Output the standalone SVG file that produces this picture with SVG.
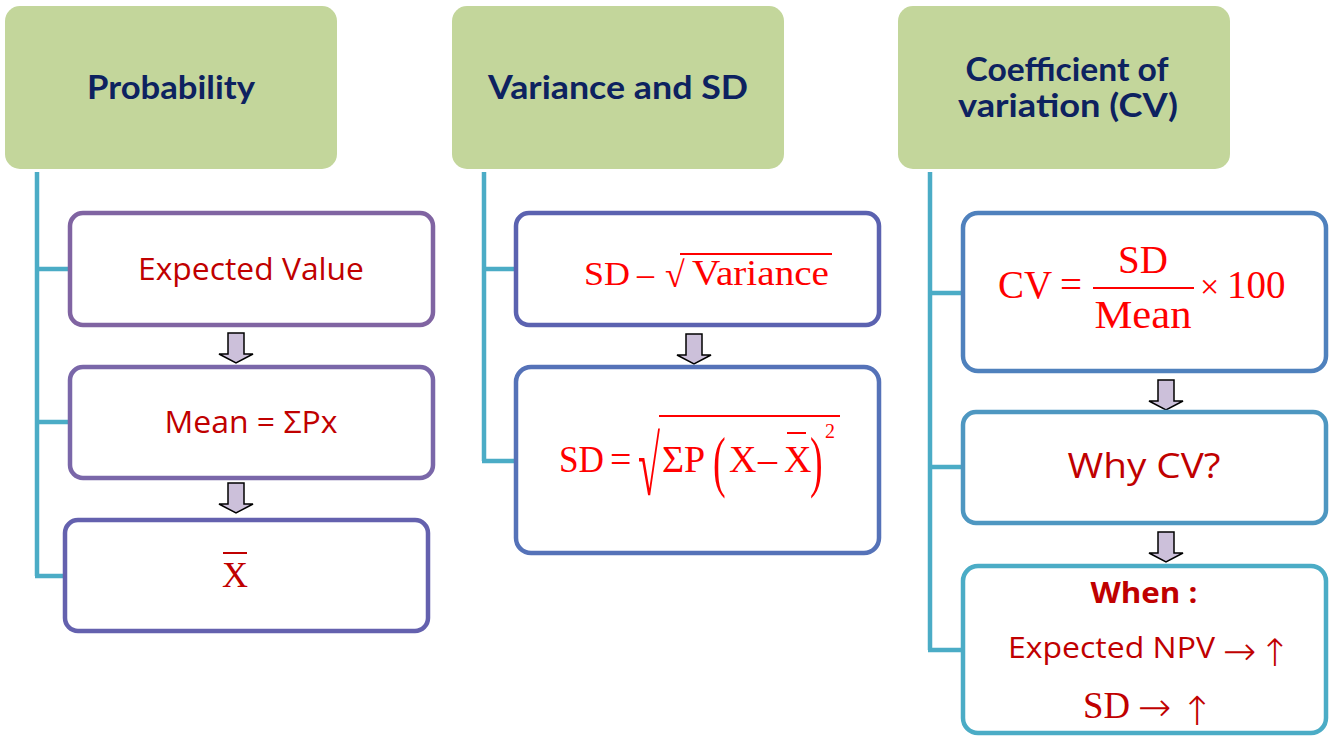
<svg xmlns="http://www.w3.org/2000/svg" width="1330" height="736" viewBox="0 0 1330 736">
<style>
.hdr{fill:#c3d69b;}
.ht{font-family:Lato,"Liberation Sans",sans-serif;font-weight:700;font-size:33px;fill:#0d2260;text-anchor:middle;}
.box{fill:#fff;stroke-width:4.5;}
.conn{fill:none;stroke:#4bacc6;stroke-width:4.5;}
.ct{font-family:"Open Sans","Liberation Sans",sans-serif;fill:#c00000;}
.m{font-family:"Liberation Serif","DejaVu Serif",serif;fill:#ff0000;}
.md{font-family:"Liberation Serif","DejaVu Serif",serif;fill:#c00000;}
.aw{font-family:"DejaVu Sans",sans-serif;fill:#c00000;font-weight:200;}
.ar{fill:#ccc0da;stroke:#000;stroke-width:1.5;}
</style>
<defs>
<path id="dn" d="M-8,0 H8 V21 H17 L0,30 L-17,21 H-8 Z"/>
</defs>
<g id="connectors">
<path class="conn" d="M37,172 V576 M35,269 H70 M35,422 H70 M35,576 H65"/>
<path class="conn" d="M484,172 V461 M482,269 H516 M482,461 H516"/>
<path class="conn" d="M930,172 V650 M928,293 H963 M928,467 H963 M928,650 H963"/>
<use href="#dn" class="ar" x="236" y="333"/>
<use href="#dn" class="ar" x="236" y="483"/>
<use href="#dn" class="ar" x="694" y="334"/>
<use href="#dn" class="ar" x="1166" y="380"/>
<use href="#dn" class="ar" x="1166" y="532"/>
</g>
<g id="h1"><rect class="hdr" x="5" y="6" width="332" height="163" rx="15"/><text class="ht" x="171" y="99" textLength="168" lengthAdjust="spacingAndGlyphs">Probability</text></g>
<g id="h2"><rect class="hdr" x="452" y="6" width="332" height="163" rx="15"/><text class="ht" x="618" y="99" textLength="260" lengthAdjust="spacingAndGlyphs">Variance and SD</text></g>
<g id="h3"><rect class="hdr" x="898" y="6" width="332" height="163" rx="15"/><text class="ht" x="1067" y="81" textLength="203" lengthAdjust="spacingAndGlyphs">Coefficient of</text><text class="ht" x="1068" y="117" textLength="220" lengthAdjust="spacingAndGlyphs">variation (CV)</text></g>

<g id="b1"><rect class="box" x="70" y="213" width="363" height="112" rx="13" stroke="#8064a2"/><text class="ct" x="251" y="280" font-size="31" text-anchor="middle" textLength="226" lengthAdjust="spacingAndGlyphs">Expected Value</text></g>
<g id="b2"><rect class="box" x="70" y="367" width="363" height="111" rx="13" stroke="#7a67a9"/><text class="ct" x="251" y="433" font-size="31" text-anchor="middle" textLength="173" lengthAdjust="spacingAndGlyphs">Mean = ΣPx</text></g>
<g id="b3"><rect class="box" x="65" y="520" width="363" height="111" rx="13" stroke="#6461ae"/><text class="md" x="235" y="587" font-size="36" text-anchor="middle">X</text><line x1="223" y1="553" x2="247" y2="553" stroke="#c00000" stroke-width="2"/></g>

<g id="b4"><rect class="box" x="516" y="213" width="363" height="112" rx="13" stroke="#5b62b0"/>
<text class="m" x="584" y="285" font-size="34" textLength="46" lengthAdjust="spacingAndGlyphs">SD</text>
<text class="m" x="637" y="285" font-size="34">–</text>
<text class="m" x="665" y="287" font-size="36">√</text>
<line x1="680" y1="254" x2="832" y2="254" stroke="#ff0000" stroke-width="2"/>
<text class="m" x="692" y="285" font-size="35" textLength="137" lengthAdjust="spacingAndGlyphs">Variance</text>
</g>
<g id="b5"><rect class="box" x="516" y="367" width="363" height="186" rx="15" stroke="#5572b8"/>
<text class="m" x="559" y="472" font-size="38" textLength="45" lengthAdjust="spacingAndGlyphs">SD</text>
<text class="m" x="610" y="472" font-size="38">=</text>
<text class="m" font-size="40" transform="translate(638,495) scale(1,2.1)">√</text>
<line x1="659" y1="416" x2="840" y2="416" stroke="#ff0000" stroke-width="2"/>
<text class="m" x="662" y="472" font-size="38">ΣP</text>
<text class="m" font-size="38" transform="translate(713,484) scale(1,1.8)">(</text>
<text class="m" x="729" y="472" font-size="38">X</text>
<text class="m" x="758" y="472" font-size="38">–</text>
<text class="m" x="784" y="472" font-size="38">X</text>
<line x1="787" y1="433" x2="806" y2="433" stroke="#ff0000" stroke-width="2"/>
<text class="m" font-size="38" transform="translate(810,484) scale(1,1.8)">)</text>
<text class="m" x="825" y="438" font-size="20">2</text>
</g>

<g id="b6"><rect class="box" x="963" y="213" width="363" height="158" rx="15" stroke="#4f81bd"/>
<text class="m" x="998" y="298" font-size="39">CV</text>
<text class="m" x="1060" y="298" font-size="39">=</text>
<text class="m" x="1143" y="273" font-size="39" text-anchor="middle">SD</text>
<line x1="1093" y1="288" x2="1194" y2="288" stroke="#ff0000" stroke-width="2"/>
<text class="m" x="1143" y="328" font-size="39" text-anchor="middle" textLength="97" lengthAdjust="spacingAndGlyphs">Mean</text>
<text class="m" x="1200" y="298" font-size="34">×</text>
<text class="m" x="1227" y="298" font-size="39">100</text>
</g>
<g id="b7"><rect class="box" x="963" y="412" width="363" height="111" rx="13" stroke="#4e97c1"/><text class="ct" x="1144" y="478" font-size="35" text-anchor="middle" textLength="153" lengthAdjust="spacingAndGlyphs">Why CV?</text></g>
<g id="b8"><rect class="box" x="963" y="566" width="363" height="167" rx="15" stroke="#4bacc6"/>
<text class="ct" x="1144" y="603" font-size="29" font-weight="700" text-anchor="middle" textLength="107" lengthAdjust="spacingAndGlyphs">When :</text>
<text class="ct" x="1008" y="658" font-size="29" textLength="207" lengthAdjust="spacingAndGlyphs">Expected NPV</text>
<text class="aw" x="1223" y="665" font-size="40">→</text>
<text class="aw" x="1275" y="666" font-size="38" text-anchor="middle">↑</text>
<text class="md" x="1083" y="718" font-size="38" textLength="47" lengthAdjust="spacingAndGlyphs">SD</text>
<text class="aw" x="1138" y="721" font-size="40">→</text>
<text class="aw" x="1197" y="725" font-size="40" text-anchor="middle">↑</text>
</g>
</svg>
